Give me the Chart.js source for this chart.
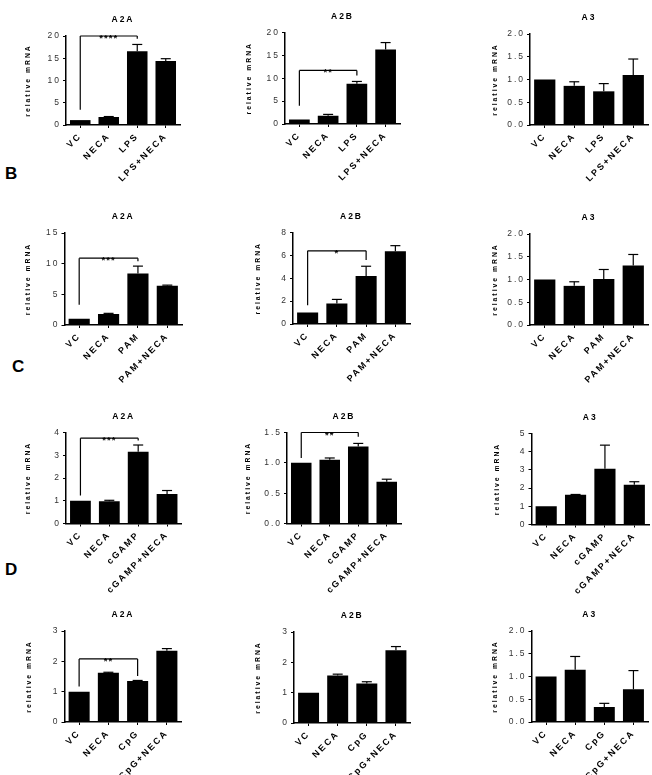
<!DOCTYPE html>
<html>
<head>
<meta charset="utf-8">
<script src="https://cdn.jsdelivr.net/npm/chart.js@4.4.1/dist/chart.umd.min.js"></script>
<style>
  body { margin: 0; background: #fff; }
  #wrap { position: relative; width: 652px; height: 775px; overflow: hidden; }
  canvas { position: absolute; }
  .lbl { position: absolute; font: bold 17px "Liberation Sans", Arial, sans-serif; line-height: 17px; color: #000; }
</style>
</head>
<body>
<div id="wrap">
  <div class="lbl" style="left:5px;top:165px">B</div>
  <div class="lbl" style="left:12px;top:358px">C</div>
  <div class="lbl" style="left:5px;top:561px">D</div>
</div>
<script>
// categories
const catsLPS = ['VC', 'NECA', 'LPS', 'LPS+NECA'];
const catsPAM = ['VC', 'NECA', 'PAM', 'PAM+NECA'];
const catsGAMP = ['VC', 'NECA', 'cGAMP', 'cGAMP+NECA'];
const catsCpG = ['VC', 'NECA', 'CpG', 'CpG+NECA'];
const receptors = ['A2A', 'A2B', 'A3'];

// means and SEM
const lpsA2A = [1.1, 1.8, 16.6, 14.4];   const lpsA2AErr = [0, 0.1, 1.5, 0.5];
const lpsA2B = [1.0, 1.8, 8.8, 16.3];    const lpsA2BErr = [0, 0.3, 0.5, 1.5];
const lpsA3 = [1.0, 0.86, 0.74, 1.1];    const lpsA3Err = [0, 0.09, 0.17, 0.35];
const pamA2A = [1.0, 1.8, 8.4, 6.4];     const pamA2AErr = [0, 0.1, 1.2, 0.1];
const pamA2B = [1.0, 1.8, 4.2, 6.35];    const pamA2BErr = [0, 0.35, 0.85, 0.5];
const pamA3 = [1.0, 0.86, 1.01, 1.31];   const pamA3Err = [0, 0.09, 0.21, 0.24];
const gampA2A = [1.0, 0.98, 3.15, 1.3];  const gampA2AErr = [0, 0.04, 0.3, 0.15];
const gampA2B = [1.0, 1.05, 1.27, 0.69]; const gampA2BErr = [0, 0.03, 0.05, 0.04];
const gampA3 = [1.0, 1.63, 3.06, 2.19];  const gampA3Err = [0, 0.02, 1.3, 0.16];
const cpgA2A = [1.0, 1.62, 1.35, 2.35];  const cpgA2AErr = [0, 0.02, 0.02, 0.07];
const cpgA2B = [1.0, 1.57, 1.3, 2.4];    const cpgA2BErr = [0, 0.04, 0.06, 0.12];
const cpgA3 = [1.0, 1.15, 0.33, 0.72];   const cpgA3Err = [0, 0.29, 0.08, 0.41];

// y axis ranges: [max, step, decimals]
const lpsTicks = [[20, 5, 0], [20, 5, 0], [2, 0.5, 1]];
const pamTicks = [[15, 5, 0], [8, 2, 0], [2, 0.5, 1]];
const gampTicks = [[4, 1, 0], [1.5, 0.5, 1], [5, 1, 0]];
const cpgTicks = [[3, 1, 0], [3, 1, 0], [2, 0.5, 1]];

// significance brackets VC vs 3rd bar: [bracket level, left leg end, right leg end, stars]
const lpsSig = [[20, 3.4, 19.4, '****'], [11.7, 4, 10.6, '**'], null];
const pamSig = [[10.9, 3.3, 10.4, '***'], [6.4, 1.65, 5.6, '*'], null];
const gampSig = [[3.75, 1.23, 3.65, '***'], [1.5, 1.08, 1.43, '**'], null];
const cpgSig = [[2.08, 1.17, 1.52, '**'], null, null];

const rows = [
  { cats: catsLPS, vals: [lpsA2A, lpsA2B, lpsA3], errs: [lpsA2AErr, lpsA2BErr, lpsA3Err], ticks: lpsTicks, sig: lpsSig },
  { cats: catsPAM, vals: [pamA2A, pamA2B, pamA3], errs: [pamA2AErr, pamA2BErr, pamA3Err], ticks: pamTicks, sig: pamSig },
  { cats: catsGAMP, vals: [gampA2A, gampA2B, gampA3], errs: [gampA2AErr, gampA2BErr, gampA3Err], ticks: gampTicks, sig: gampSig },
  { cats: catsCpG, vals: [cpgA2A, cpgA2B, cpgA3], errs: [cpgA2AErr, cpgA2BErr, cpgA3Err], ticks: cpgTicks, sig: cpgSig }
];

// page layout: cells and plot boxes [axisX, rightX, topY, bottomY, yTitleX]
const colCells = [[0, 218], [218, 218], [436, 216]];
const rowCells = [[0, 200], [200, 198], [398, 204], [602, 173]];
const boxes = [
  [[66, 180, 36, 125, 28], [285, 400, 32.5, 124, 249], [530, 648, 34, 125, 495]],
  [[64.5, 182, 233, 325, 28], [293, 410, 232.5, 324, 258], [530, 648, 234, 325, 495]],
  [[66, 181.5, 432.5, 523.5, 28], [287, 401, 432.5, 523.5, 248], [531.5, 649, 433.5, 524.5, 497]],
  [[64.5, 181.5, 631, 722, 29], [294, 410.5, 632, 723, 258], [531.5, 648, 631, 722, 495]]
];
const FONT = '"Liberation Sans", Arial, sans-serif';

function overlay(title, vals, errs, sig) {
  return {
    id: 'overlay',
    beforeUpdate(chart) { chart.ctx.letterSpacing = '2px'; },
    beforeDraw(chart) { chart.ctx.letterSpacing = '2px'; },
    afterDatasetsDraw(chart) {
      const { ctx, chartArea, scales: { x, y } } = chart;
      ctx.save();
      ctx.strokeStyle = '#000';
      ctx.lineWidth = 1.2;
      const seg = (x0, y0, x1, y1) => { ctx.beginPath(); ctx.moveTo(x0, y0); ctx.lineTo(x1, y1); ctx.stroke(); };
      errs.forEach((e, i) => {
        if (!e) return;
        const cx = x.getPixelForValue(i);
        const y0 = y.getPixelForValue(vals[i]);
        const y1 = y.getPixelForValue(vals[i] + e);
        seg(cx, y0, cx, y1);
        seg(cx - 5, y1, cx + 5, y1);
      });
      if (sig) {
        const xl = x.getPixelForValue(0), xr = x.getPixelForValue(2);
        const yb = y.getPixelForValue(sig[0]);
        seg(xl, y.getPixelForValue(sig[1]), xl, yb);
        seg(xl, yb, xr, yb);
        seg(xr, yb, xr, y.getPixelForValue(sig[2]));
        ctx.fillStyle = '#000';
        ctx.letterSpacing = '1px';
        ctx.font = 'bold 9.5px ' + FONT;
        ctx.textAlign = 'center';
        ctx.textBaseline = 'alphabetic';
        ctx.fillText(sig[3], (xl + xr) / 2, yb + 5);
        ctx.letterSpacing = '2px';
      }
      ctx.fillStyle = '#000';
      ctx.font = 'bold 8.5px ' + FONT;
      ctx.textAlign = 'center';
      ctx.textBaseline = 'middle';
      ctx.fillText(title, (chartArea.left + chartArea.right) / 2, chartArea.top - 16);
      ctx.restore();
    }
  };
}

const wrap = document.getElementById('wrap');
rows.forEach((row, r) => {
  receptors.forEach((rec, c) => {
    const [cl, cw] = colCells[c];
    const [rt, rh] = rowCells[r];
    const [axisX, rightX, topY, botY, titleX] = boxes[r][c];
    const [yMax, step, dec] = row.ticks[c];
    const yW = axisX - titleX + 4;
    const xH = rt + rh - botY;
    const cv = document.createElement('canvas');
    cv.width = cw; cv.height = rh;
    cv.style.left = cl + 'px'; cv.style.top = rt + 'px';
    wrap.appendChild(cv);
    new Chart(cv, {
      type: 'bar',
      data: {
        labels: row.cats,
        datasets: [{
          data: row.vals[c],
          backgroundColor: '#000',
          borderWidth: 0,
          barPercentage: 0.72,
          categoryPercentage: 1
        }]
      },
      options: {
        responsive: false,
        animation: false,
        layout: {
          padding: {
            left: axisX - yW - cl,
            right: cl + cw - rightX,
            top: topY - rt,
            bottom: 0
          }
        },
        plugins: { legend: { display: false }, tooltip: { enabled: false }, title: { display: false } },
        scales: {
          x: {
            afterFit: s => { s.height = xH; },
            grid: { display: true, drawOnChartArea: false, offset: false, tickLength: 3, color: '#000', tickWidth: 1 },
            border: { display: true, color: '#000', width: 1.5 },
            ticks: {
              autoSkip: false, minRotation: 45, maxRotation: 45, padding: 3,
              color: '#000', font: { family: FONT, size: 9, weight: 'bold' }
            }
          },
          y: {
            min: 0, max: yMax,
            afterFit: s => { s.width = yW; },
            grid: { display: true, drawOnChartArea: false, tickLength: 3, color: '#000', tickWidth: 1 },
            border: { display: true, color: '#000', width: 1.5 },
            ticks: {
              stepSize: step, padding: 2, color: '#333',
              font: { family: FONT, size: 8.5 },
              callback: v => Number(v).toFixed(dec)
            },
            title: {
              display: true, text: 'relative mRNA', padding: 0, color: '#000',
              font: { family: FONT, size: 6.8, weight: 'bold' }
            }
          }
        }
      },
      plugins: [overlay(rec, row.vals[c], row.errs[c], row.sig[c])]
    });
  });
});
</script>
</body>
</html>
